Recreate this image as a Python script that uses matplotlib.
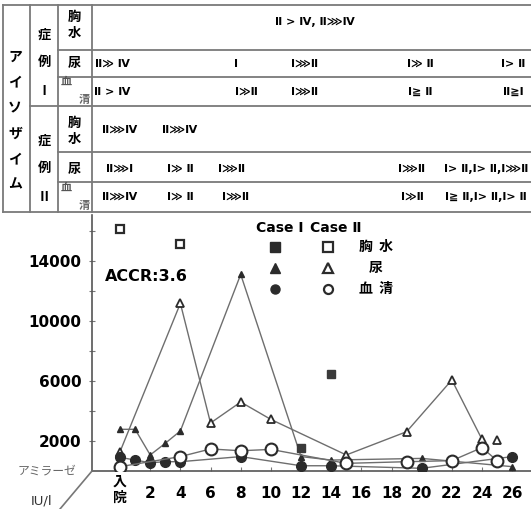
import matplotlib
matplotlib.use('Agg')
import matplotlib.pyplot as plt
import matplotlib.transforms as mtransforms

plt.rcParams['font.family'] = ['Noto Sans CJK JP', 'DejaVu Sans']

# 入院後日数 / アミラーゼ IU/l
c1_pleural_day = [12, 14]
c1_pleural_val = [1510, 6450]
c2_pleural_day = [0, 4]
c2_pleural_val = [16130, 15130]

c1_urine_day = [0, 1, 2, 3, 4, 8, 12, 14, 20, 26]
c1_urine_val = [2780, 2780, 1070, 1850, 2670, 13110, 960, 730, 840, 290]
c2_urine_day = [0, 4, 6, 8, 10, 15, 19, 22, 24]
c2_urine_val = [1290, 11180, 3200, 4600, 3440, 1070, 2620, 6070, 2110]
c2_urine_last_day = [25]
c2_urine_last_val = [2070]

c1_serum_day = [0, 1, 2, 3, 4, 8, 12, 14, 20, 26]
c1_serum_val = [910, 730, 550, 620, 620, 960, 350, 350, 180, 960]
c2_serum_day = [0, 4, 6, 8, 10, 15, 19, 22, 24, 25]
c2_serum_val = [290, 960, 1470, 1350, 1440, 510, 620, 690, 1560, 690]

xtick_pos = [2, 4, 6, 8, 10, 12, 14, 16, 18, 20, 22, 24, 26]
xtick_lab = [str(d) for d in xtick_pos]
ytick_pos = [2000, 4000, 6000, 8000, 10000, 12000, 14000, 16000]
ytick_lab = ['2000', '', '6000', '', '10000', '', '14000', '']

# アイソザイム table text: (x, text) per row
case1_pleural_iso = [(315, 'Ⅱ > Ⅳ, Ⅱ⋙Ⅳ')]
case1_urine_iso = [(112, 'Ⅱ≫ Ⅳ'), (236, 'Ⅰ'), (305, 'Ⅰ⋙Ⅱ'), (420, 'Ⅰ≫ Ⅱ'), (513, 'Ⅰ> Ⅱ')]
case1_serum_iso = [(112, 'Ⅱ > Ⅳ'), (246, 'Ⅰ≫Ⅱ'), (305, 'Ⅰ⋙Ⅱ'), (420, 'Ⅰ≧ Ⅱ'), (513, 'Ⅱ≧Ⅰ')]
case2_pleural_iso = [(120, 'Ⅱ⋙Ⅳ'), (180, 'Ⅱ⋙Ⅳ')]
case2_urine_iso = [(120, 'Ⅱ⋙Ⅰ'), (180, 'Ⅰ≫ Ⅱ'), (232, 'Ⅰ⋙Ⅱ'), (412, 'Ⅰ⋙Ⅱ'), (486, 'Ⅰ> Ⅱ,Ⅰ> Ⅱ,Ⅰ⋙Ⅱ')]
case2_serum_iso = [(120, 'Ⅱ⋙Ⅳ'), (180, 'Ⅰ≫ Ⅱ'), (236, 'Ⅰ⋙Ⅱ'), (412, 'Ⅰ≫Ⅱ'), (486, 'Ⅰ≧ Ⅱ,Ⅰ> Ⅱ,Ⅰ> Ⅱ')]

W, H = 531, 509
fig = plt.figure(figsize=(W / 100, H / 100), dpi=100)

ax = fig.add_axes([92 / W, (H - 471) / H, 1 - 92 / W, (471 - 215) / H])
ax.set_xlim(-1.86, 27.25)
ax.set_ylim(0, 17070)
for s in ['top', 'right']:
    ax.spines[s].set_visible(False)
for s in ['left', 'bottom']:
    ax.spines[s].set_color('#555555')
    ax.spines[s].set_linewidth(1.2)

lc = '#6e6e6e'
mc = '#2b2b2b'
ax.plot(c1_urine_day, c1_urine_val, color=lc, lw=1.0, marker='^', ms=5, mfc=mc, mec=mc, zorder=3)
ax.plot(c2_urine_day, c2_urine_val, color=lc, lw=1.0, marker='^', ms=5.5, mfc='white', mec=mc, mew=1.3, zorder=3)
ax.plot(c2_urine_last_day, c2_urine_last_val, ls='none', marker='^', ms=5.5, mfc='white', mec=mc, mew=1.3, zorder=3)
ax.plot(c1_serum_day, c1_serum_val, color=lc, lw=1.0, marker='o', ms=7, mfc=mc, mec=mc, zorder=4)
ax.plot(c2_serum_day, c2_serum_val, color=lc, lw=1.0, marker='o', ms=8.5, mfc='white', mec=mc, mew=1.5, zorder=4)
ax.plot(c1_pleural_day, c1_pleural_val, ls='none', marker='s', ms=5.5, mfc='#3a3a3a', mec='#3a3a3a', zorder=5)
ax.plot(c2_pleural_day, c2_pleural_val, ls='none', marker='s', ms=5.5, mfc='white', mec=mc, mew=1.6, zorder=5)

ax.set_xticks(xtick_pos)
ax.set_xticklabels(xtick_lab, family='DejaVu Sans', fontweight='bold', fontsize=11)
ax.set_yticks(ytick_pos)
ax.set_yticklabels(ytick_lab, family='DejaVu Sans', fontweight='bold', fontsize=11)
ax.tick_params(axis='x', direction='in', length=3, pad=11, color='#777777')
ax.tick_params(axis='y', direction='inout', length=5, pad=5, color='#777777')

trans = mtransforms.blended_transform_factory(ax.transData, ax.transAxes)
ax.text(0, -0.015, '入\n院', transform=trans, ha='center', va='top',
        fontsize=10, fontweight='bold', linespacing=1.2)

ax.text(0.03, 0.76, 'ACCR:3.6', transform=ax.transAxes, family='DejaVu Sans',
        fontsize=11.5, fontweight='bold', va='center')

# overlay in pixel coordinates for table and legend
ov = fig.add_axes([0, 0, 1, 1])
ov.set_xlim(0, W)
ov.set_ylim(H, 0)
ov.axis('off')
ov.patch.set_alpha(0)

tc = '#7a7a7a'
tl = 1.3
ov.plot([3, W], [5, 5], color=tc, lw=tl)
ov.plot([3, W], [212, 212], color=tc, lw=tl)
ov.plot([30, W], [106, 106], color=tc, lw=tl)
for yy in [50, 77, 152, 182]:
    ov.plot([58, W], [yy, yy], color=tc, lw=tl)
for xx in [3, 30, 58, 92]:
    ov.plot([xx, xx], [5, 212], color=tc, lw=tl)

for i, ch in enumerate('アイソザイム'):
    ov.text(15, 57 + i * 25.5, ch, ha='center', va='center', fontsize=10, fontweight='bold')

for y0, num in [(0, 'Ⅰ'), (106, 'Ⅱ')]:
    ov.text(44, y0 + 35, '症', ha='center', va='center', fontsize=9.5, fontweight='bold')
    ov.text(44, y0 + 62, '例', ha='center', va='center', fontsize=9.5, fontweight='bold')
    ov.text(44, y0 + 91, num, ha='center', va='center', fontsize=9.5, fontweight='bold')
    ov.text(74, y0 + 17, '胸', ha='center', va='center', fontsize=9.5, fontweight='bold')
    ov.text(74, y0 + 33, '水', ha='center', va='center', fontsize=9.5, fontweight='bold')
    ov.text(74, y0 + 63, '尿', ha='center', va='center', fontsize=9.5, fontweight='bold')
    ov.text(66, y0 + 81, '血', ha='center', va='center', fontsize=8, fontweight='bold', color='#555555')
    ov.text(84, y0 + 99, '清', ha='center', va='center', fontsize=8, fontweight='bold', color='#666666')

rows = [(22, case1_pleural_iso), (64, case1_urine_iso), (92, case1_serum_iso),
        (130, case2_pleural_iso), (169, case2_urine_iso), (197, case2_serum_iso)]
for yy, items in rows:
    for xx, s in items:
        ov.text(xx, yy, s, ha='center', va='center', fontsize=8, fontweight='bold',
                family=['DejaVu Sans', 'Noto Sans CJK JP'])

# legend
ov.text(256, 228, 'Case Ⅰ', ha='left', va='center', fontsize=10, fontweight='bold',
        family=['DejaVu Sans', 'Noto Sans CJK JP'])
ov.text(310, 228, 'Case Ⅱ', ha='left', va='center', fontsize=10, fontweight='bold',
        family=['DejaVu Sans', 'Noto Sans CJK JP'])
for yy, m, lab in [(247, 's', '胸  水'), (268, '^', '尿'), (289, 'o', '血  清')]:
    ov.plot([275], [yy], ls='none', marker=m, ms=6.5, mfc=mc, mec=mc)
    ov.plot([328], [yy], ls='none', marker=m, ms=6.5, mfc='white', mec=mc, mew=1.6)
    ov.text(376, yy, lab, ha='center', va='center', fontsize=10, fontweight='bold')

# axis caption
ov.plot([92, 60], [471, 509], color='#777777', lw=1.2)
ov.text(47, 471, 'アミラーゼ', ha='center', va='center', fontsize=8.5, color='#666666')
ov.text(42, 501, 'IU/l', ha='center', va='center', fontsize=9.5, color='#333333',
        family='DejaVu Sans')

fig.savefig('out.png', dpi=100)
